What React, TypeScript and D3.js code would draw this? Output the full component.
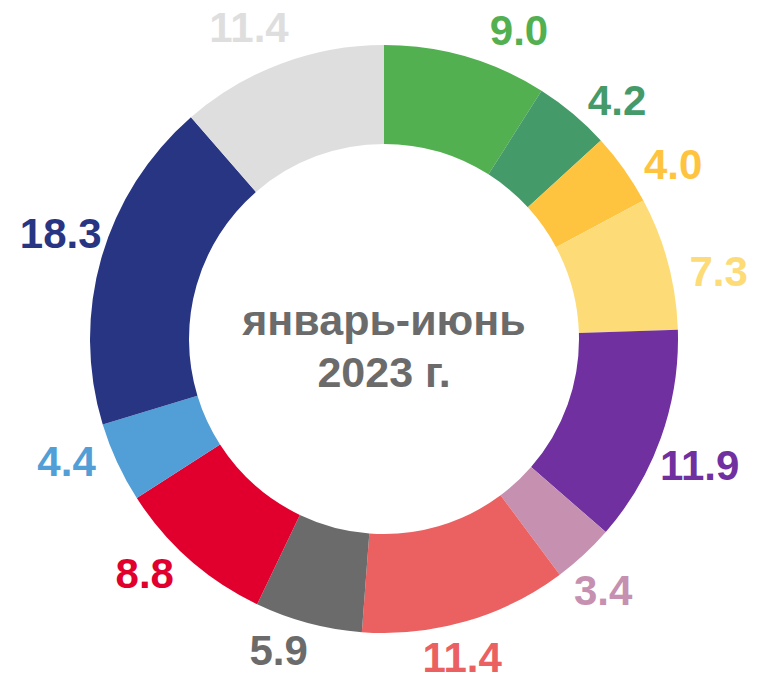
import React from "react";
import * as d3 from "d3";

const categories = ["c1", "c2", "c3", "c4", "c5", "c6", "c7", "c8", "c9", "c10", "c11", "c12"];
const values = [9.0, 4.2, 4.0, 7.3, 11.9, 3.4, 11.4, 5.9, 8.8, 4.4, 18.3, 11.4];
const colors = [
  "#52b050", "#449a68", "#ffc43f", "#fddb76", "#7030a0", "#c690b1",
  "#eb6060", "#6b6b6b", "#e1002d", "#519fd6", "#283583", "#dedede",
];
const centerLines = ["январь-июнь", "2023 г."];

const W = 761;
const H = 681;
const CX = 384;
const CY = 339;
const R_OUT = 294;
const R_IN = 195;
// label ellipse radii and rules
const LA = 342;
const LB = 327;
const LABEL_ROT = (3 * Math.PI) / 180;
const MIN_TOP_X = 135;
const FONT = "'Liberation Sans', Arial, sans-serif";

export default function App() {
  const data = categories.map((c, i) => ({ c, v: values[i], color: colors[i] }));
  const pie = d3.pie<any>().value((d) => d.v).sort(null);
  const arcs = pie(data);
  const arcGen = d3.arc<any>().innerRadius(R_IN).outerRadius(R_OUT);

  const labelPos = (a: any) => {
    const t = (a.startAngle + a.endAngle) / 2 + LABEL_ROT;
    let x = LA * Math.sin(t);
    const y = -LB * Math.cos(t);
    if (y < 0 && Math.abs(x) < MIN_TOP_X) x = Math.sign(x) * MIN_TOP_X;
    return [x, y];
  };

  return (
    <svg
      width={W}
      height={H}
      style={{ position: "absolute", left: 0, top: 0, background: "#fff" }}
    >
      <g transform={`translate(${CX},${CY})`}>
        {arcs.map((a, i) => (
          <path key={i} d={arcGen(a) as string} fill={a.data.color} />
        ))}
        {arcs.map((a, i) => {
          const [x, y] = labelPos(a);
          return (
            <text
              key={"l" + i}
              x={x}
              y={y}
              dy="0.36em"
              textAnchor="middle"
              fontFamily={FONT}
              fontWeight="bold"
              fontSize={42}
              fill={a.data.color}
            >
              {a.data.v.toFixed(1)}
            </text>
          );
        })}
        {centerLines.map((t, i) => (
          <text
            key={"c" + i}
            x={0}
            y={-4 + i * 52}
            textAnchor="middle"
            fontFamily={FONT}
            fontWeight="bold"
            fontSize={43}
            fill="#6b6b6b"
          >
            {t}
          </text>
        ))}
      </g>
    </svg>
  );
}
